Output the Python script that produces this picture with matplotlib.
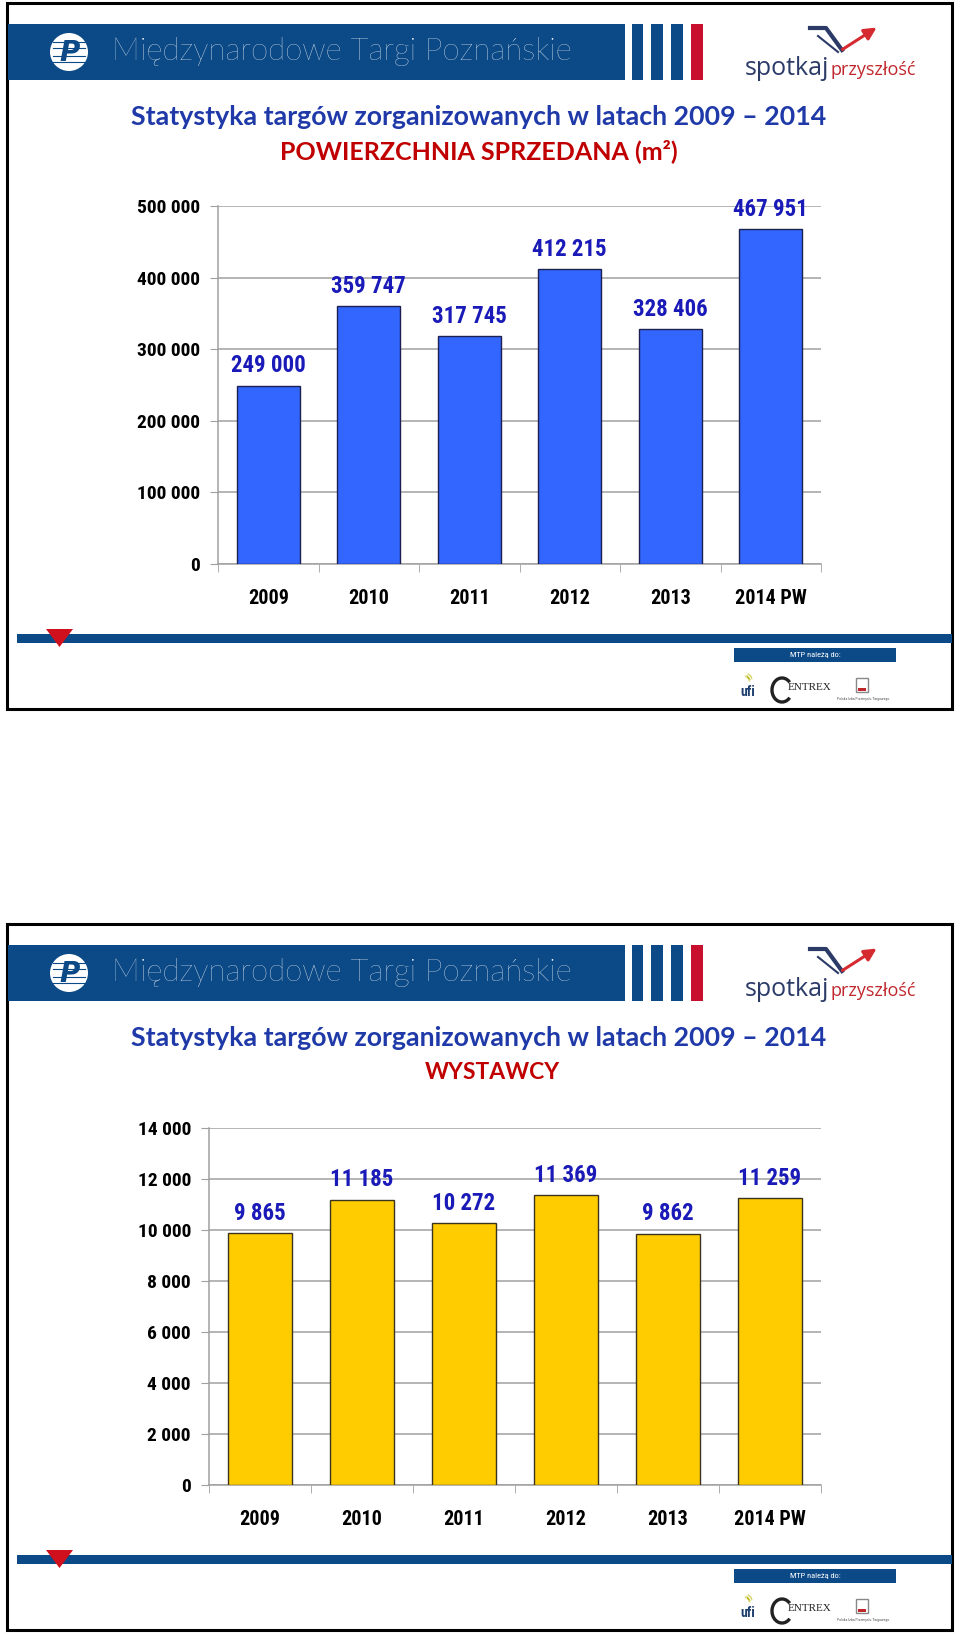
import numpy as np
import matplotlib
matplotlib.use("Agg")
import matplotlib.pyplot as plt
from matplotlib.patches import Rectangle, Polygon, Circle, Arc
from matplotlib.ticker import FuncFormatter, MultipleLocator

# data
years = ["2009", "2010", "2011", "2012", "2013", "2014 PW"]
area_sold = [249000, 359747, 317745, 412215, 328406, 467951]
exhibitors = [9865, 11185, 10272, 11369, 9862, 11259]

title_main = "Statystyka targów zorganizowanych w latach 2009 – 2014"
title_area = "POWIERZCHNIA SPRZEDANA (m²)"
title_exh = "WYSTAWCY"

W, H = 960, 1635
NAVY = "#0c4a87"
RED = "#c8102e"
TITLE_BLUE = "#1f3aa8"
LABEL_BLUE = "#1a1ab8"
NARROW = ["Roboto Condensed", "DejaVu Sans"]

# narrow bold text for the chart numbers (Arial Narrow in the original)
plt.rcParams["font.family"] = NARROW
plt.rcParams["font.stretch"] = "condensed"
plt.rcParams["font.weight"] = "bold"

fig = plt.figure(figsize=(W / 100, H / 100), dpi=100)
fig.patch.set_facecolor("white")

# overlay in pixel coords for the slide decorations
ov = fig.add_axes([0, 0, 1, 1], zorder=0)
ov.set_xlim(0, W)
ov.set_ylim(H, 0)
ov.axis("off")


def px_axes(x0, y0, x1, y1):
    return fig.add_axes([x0 / W, 1 - y1 / H, (x1 - x0) / W, (y1 - y0) / H], zorder=2)


def spaced(v, pos=None):
    return f"{int(round(v)):,}".replace(",", " ")


def draw_slide(dy, subtitle, sub_size, sub_x):
    # frame
    ov.add_patch(Rectangle((7, 3 + dy), 945, 706, fill=False, ec="black", lw=2.2))
    # header band + stripes
    ov.add_patch(Rectangle((8, 24 + dy), 617, 56, fc=NAVY, ec="none"))
    for x0, x1, c in [(632, 643, NAVY), (651, 663, NAVY), (671, 683, NAVY), (691, 703, RED)]:
        ov.add_patch(Rectangle((x0, 24 + dy), x1 - x0, 56, fc=c, ec="none"))
    # MTP globe logo
    ov.add_patch(Circle((69, 52 + dy), 19, fc="white", ec="none"))
    for yy in (42, 48, 56, 62):
        ov.plot([53, 85], [yy + dy, yy + dy], color=NAVY, lw=0.8)
    ov.text(70, 53 + dy, "P", color=NAVY, fontsize=20, fontweight="bold",
            fontstyle="italic", ha="center", va="center", family="DejaVu Sans",
            fontstretch="normal")
    ov.text(112, 51 + dy, "Międzynarodowe Targi Poznańskie", color="white",
            fontsize=22.5, fontweight="light", family=["Lato", "DejaVu Sans"],
            fontstretch="normal", ha="left", va="center")
    # spotkaj przyszłość logo
    ov.plot([810, 826, 842], [28 + dy, 28 + dy, 50 + dy], color="#2b3a67", lw=3)
    ov.plot([818, 838], [36 + dy, 52 + dy], color="#2b3a67", lw=1.5)
    ov.annotate("", xy=(879, 26 + dy), xytext=(840, 51 + dy),
                arrowprops=dict(arrowstyle="-|>", color="#d42a30", lw=2.2,
                                mutation_scale=18))
    ov.text(745, 68 + dy, "spotkaj", color="#2b3a67", fontsize=18,
            fontweight="normal", fontstretch="normal",
            family=["Open Sans", "DejaVu Sans"], ha="left", va="center")
    ov.text(831, 70 + dy, "przyszłość", color="#c0272d", fontsize=13,
            fontweight="normal", fontstretch="normal",
            family=["Open Sans", "DejaVu Sans"], ha="left", va="center")
    # titles
    ov.text(479, 117 + dy, title_main, color=TITLE_BLUE, fontsize=19.3,
            fontweight="bold", fontstretch="normal", family=["Lato", "DejaVu Sans"],
            ha="center", va="center")
    ov.text(sub_x, 151 + dy, subtitle, color="#c00000", fontsize=sub_size,
            fontweight="bold", fontstretch="normal", family=["Lato", "DejaVu Sans"],
            ha="center", va="center")
    # footer
    ov.add_patch(Rectangle((17, 634 + dy), 935, 9, fc=NAVY, ec="none"))
    ov.add_patch(Polygon([(46, 629 + dy), (73, 629 + dy), (59.5, 647 + dy)],
                         closed=True, fc="#d0101c", ec="none"))
    ov.add_patch(Rectangle((734, 648 + dy), 162, 14, fc=NAVY, ec="none"))
    ov.text(815, 655 + dy, "MTP należą do:", color="white", fontsize=6,
            fontweight="normal", ha="center", va="center")
    ov.text(748, 692 + dy, "ufi", color="#1f3f6f", fontsize=10, fontweight="bold",
            ha="center", va="center")
    ov.text(750, 677 + dy, ")))", color="#b8b400", fontsize=5, rotation=40,
            ha="center", va="center")
    ov.add_patch(Arc((782, 690 + dy), 20, 24, theta1=45, theta2=315,
                     ec="#222222", lw=2.4))
    ov.text(788, 687 + dy, "ENTREX", color="#222222", fontsize=8,
            fontweight="normal", fontstretch="normal",
            family=["Liberation Serif", "DejaVu Serif"], ha="left", va="center")
    ov.add_patch(Rectangle((856, 678 + dy), 12, 14, fill=False, ec="#888888", lw=1))
    ov.add_patch(Rectangle((858, 688 + dy), 8, 3, fc="#c0272d", ec="none"))
    ov.text(863, 699 + dy, "Polska Izba Przemysłu Targowego", color="#555555",
            fontsize=2.8, fontweight="normal", ha="center", va="center")


def draw_bars(ax, values, color, edge, top, step):
    x = np.arange(len(years))
    ax.bar(x, values, width=0.63, color=color, edgecolor=edge, linewidth=1.0,
           zorder=3)
    ax.set_xlim(-0.5, len(years) - 0.5)
    ax.set_ylim(0, top)
    ax.yaxis.set_major_locator(MultipleLocator(step))
    ax.yaxis.set_major_formatter(FuncFormatter(spaced))
    ax.grid(axis="y", color="#a0a0a0", lw=1.1, zorder=0)
    ax.set_axisbelow(True)
    for s in ("top", "right"):
        ax.spines[s].set_visible(False)
    for s in ("left", "bottom"):
        ax.spines[s].set_color("#a0a0a0")
        ax.spines[s].set_linewidth(1.1)
    ax.set_xticks(x)
    ax.set_xticklabels(years)
    ax.set_xticks(np.arange(-0.5, len(years)), minor=True)
    ax.tick_params(axis="x", which="major", length=0, pad=18, labelsize=14.5)
    ax.tick_params(axis="x", which="minor", length=6, color="#a0a0a0")
    ax.tick_params(axis="y", length=6, color="#a0a0a0", pad=7, labelsize=14)
    for xi, v in zip(x, values):
        ax.annotate(spaced(v), (xi, v), xytext=(0, 6), textcoords="offset points",
                    ha="center", va="bottom", color=LABEL_BLUE, fontsize=16.5,
                    zorder=4)


draw_slide(0, title_area, 18, 479)
draw_slide(921, title_exh, 16.5, 492)

ax1 = px_axes(218, 206, 821, 564)
draw_bars(ax1, area_sold, "#3366ff", "#1c2050", 500000, 100000)

ax2 = px_axes(209, 1128, 821, 1485)
draw_bars(ax2, exhibitors, "#ffcc00", "#3a3320", 14000, 2000)

fig.savefig("out.png", dpi=100, facecolor="white")
